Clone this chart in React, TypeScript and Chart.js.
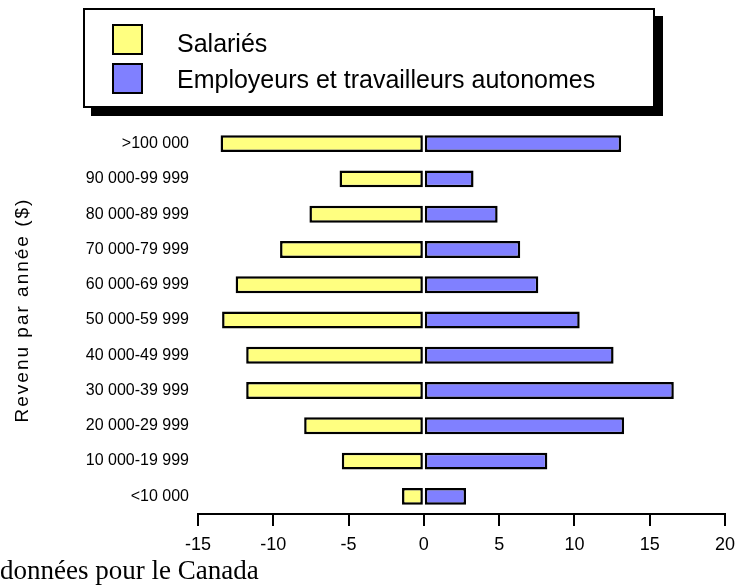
import React, { useEffect, useRef } from "react";
import { Chart, registerables } from "chart.js";

Chart.register(...registerables);

const categories = [
  ">100 000",
  "90 000-99 999",
  "80 000-89 999",
  "70 000-79 999",
  "60 000-69 999",
  "50 000-59 999",
  "40 000-49 999",
  "30 000-39 999",
  "20 000-29 999",
  "10 000-19 999",
  "<10 000",
];
const salaries = [-13.5, -5.6, -7.6, -9.55, -12.5, -13.4, -11.8, -11.8, -7.95, -5.45, -1.45];
const employeurs = [13.1, 3.3, 4.9, 6.4, 7.6, 10.35, 12.6, 16.6, 13.3, 8.2, 2.8];
const seriesLabels = ["Salariés", "Employeurs et travailleurs autonomes"];
const seriesColors = ["#FFFF80", "#8080FF"];
const xMin = -15;
const xMax = 20;
const xStep = 5;
const yTitle = "Revenu par année ($)";
const caption = "données pour le Canada";

const W = 747;
const H = 587;

const boxLegend = {
  id: "boxLegend",
  afterDraw(chart: any) {
    const ctx = chart.ctx;
    const x = 83, y = 8, w = 572, h = 100, sh = 8;
    ctx.save();
    ctx.fillStyle = "#000";
    ctx.fillRect(x + sh, y + sh, w, h);
    ctx.fillStyle = "#fff";
    ctx.fillRect(x, y, w, h);
    ctx.lineWidth = 2;
    ctx.strokeStyle = "#000";
    ctx.strokeRect(x + 1, y + 1, w - 2, h - 2);
    const ds = chart.data.datasets;
    const sqY = [24, 63];
    const baseY = [52, 88];
    ds.forEach((d: any, i: number) => {
      ctx.fillStyle = d.backgroundColor;
      ctx.fillRect(112, sqY[i], 31, 31);
      ctx.lineWidth = 2;
      ctx.strokeStyle = "#000";
      ctx.strokeRect(113, sqY[i] + 1, 29, 29);
      ctx.fillStyle = "#000";
      ctx.font = "25px 'Liberation Sans', Arial, sans-serif";
      ctx.textAlign = "left";
      ctx.textBaseline = "alphabetic";
      ctx.fillText(d.label, 177, baseY[i]);
    });
    ctx.restore();
  },
};

const extraText = {
  id: "extraText",
  afterDraw(chart: any) {
    const ctx = chart.ctx;
    ctx.save();
    ctx.fillStyle = "#000";
    ctx.translate(28, 310);
    ctx.rotate(-Math.PI / 2);
    ctx.font = "19px 'Liberation Sans', Arial, sans-serif";
    try { (ctx as any).letterSpacing = "2px"; } catch (e) {}
    ctx.textAlign = "center";
    ctx.textBaseline = "alphabetic";
    ctx.fillText(yTitle, 0, 0);
    ctx.restore();
    ctx.save();
    ctx.fillStyle = "#000";
    ctx.font = "27px 'Liberation Serif', 'Times New Roman', serif";
    ctx.textAlign = "left";
    ctx.textBaseline = "alphabetic";
    ctx.fillText(caption, 0, 579);
    ctx.restore();
  },
};

export default function App() {
  const ref = useRef<HTMLCanvasElement | null>(null);
  useEffect(() => {
    if (!ref.current) return;
    const chart = new Chart(ref.current, {
      type: "bar",
      data: {
        labels: categories,
        datasets: [
          {
            label: seriesLabels[0],
            data: salaries,
            backgroundColor: seriesColors[0],
            borderColor: "#000",
            borderWidth: 2.5,
            borderSkipped: false,
            barPercentage: 0.48,
            categoryPercentage: 1,
          },
          {
            label: seriesLabels[1],
            data: employeurs,
            backgroundColor: seriesColors[1],
            borderColor: "#000",
            borderWidth: 2.5,
            borderSkipped: false,
            barPercentage: 0.48,
            categoryPercentage: 1,
          },
        ],
      },
      options: {
        indexAxis: "y",
        responsive: false,
        animation: false,
        layout: { padding: { top: 126, right: 22, left: 0, bottom: 0 } },
        plugins: {
          legend: { display: false },
          tooltip: { enabled: false },
          title: { display: false },
        },
        scales: {
          x: {
            type: "linear",
            stacked: true,
            min: xMin,
            max: xMax,
            ticks: {
              stepSize: xStep,
              color: "#000",
              padding: 8,
              font: { family: "'Liberation Sans Narrow', 'Liberation Sans', Arial, sans-serif", size: 18 },
            },
            grid: {
              display: true,
              drawOnChartArea: false,
              drawTicks: true,
              tickLength: 12,
              color: "#000",
              lineWidth: 2,
            },
            border: { display: true, color: "#000", width: 2 },
            afterFit(scale: any) {
              scale.height = 73;
            },
          },
          y: {
            stacked: true,
            ticks: {
              color: "#000",
              padding: 9,
              font: { family: "'Liberation Sans', Arial, sans-serif", size: 16 },
            },
            grid: { display: false, drawTicks: false, tickLength: 0 },
            border: { display: false },
            afterFit(scale: any) {
              scale.width = 198;
            },
          },
        },
      },
      plugins: [boxLegend, extraText],
    } as any);
    return () => chart.destroy();
  }, []);
  return (
    <div style={{ position: "absolute", left: 0, top: 0, width: W, height: H, background: "#fff" }}>
      <canvas ref={ref} width={W} height={H} style={{ display: "block", width: W, height: H }} />
    </div>
  );
}
